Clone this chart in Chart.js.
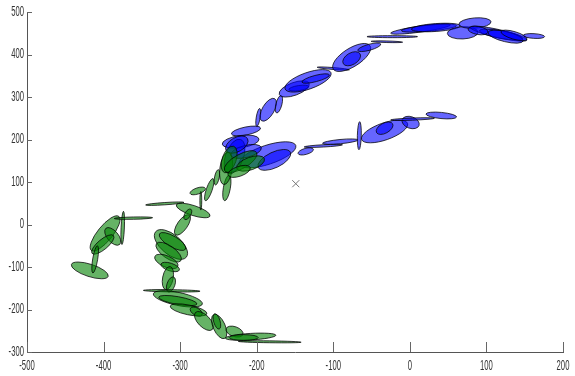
<!DOCTYPE html>
<html>
<head>
<meta charset="utf-8">
<script src="https://cdn.jsdelivr.net/npm/chart.js@4.4.0/dist/chart.umd.min.js"></script>
<style>
  html, body { margin: 0; padding: 0; background: #fff; }
  #wrap { width: 575px; height: 376px; }
</style>
</head>
<body>
<div id="wrap"><canvas id="chart" width="575" height="376"></canvas></div>
<script>
// axis ticks
const xTicks = [-500, -400, -300, -200, -100, 0, 100, 200];
const yTicks = [-300, -200, -100, 0, 100, 200, 300, 400, 500];

// each ellipse: [centerX, centerY, majorEndX, majorEndY, minor/major ratio]
const greenEllipses = [
  [-418, -108, -394, -122, 0.32],
  [-398, -21, -380, 19, 0.34],
  [-388, -28, -379, -47, 0.52],
  [-401, -47, -387, -26, 0.36],
  [-411, -82, -408, -50, 0.18],
  [-375, -8, -374, 31, 0.1],
  [-361, 15, -336, 16, 0.06],
  [-320, 49, -295, 52, 0.06],
  [-283, 33, -261, 20, 0.28],
  [-273, 56, -273, 78, 0.1],
  [-297, -1, -288, 22, 0.42],
  [-290, 24, -286, 36, 0.5],
  [-312, -47, -292, -77, 0.5],
  [-310, -40, -293, -58, 0.36],
  [-315, -65, -299, -85, 0.42],
  [-318, -87, -303, -99, 0.45],
  [-313, -100, -301, -107, 0.4],
  [-316, -126, -313, -99, 0.45],
  [-312, -141, -308.5, -123.5, 0.5],
  [-311, -156, -274, -157, 0.04],
  [-303, -175, -271, -187, 0.26],
  [-303, -179, -278, -187, 0.2],
  [-289, -201, -265, -210, 0.26],
  [-279, -205, -271.5, -213, 0.55],
  [-269, -227, -258, -247, 0.5],
  [-249, -240, -242, -268, 0.46],
  [-252, -228, -249, -246, 0.4],
  [-229, -252, -218, -259, 0.55],
  [-208, -264, -175, -260.5, 0.13],
  [-217, -266, -198, -266, 0.2],
  [-183, -276, -142, -277, 0.03],
  [-277, 79, -267, 85, 0.38],
  [-262, 82, -257, 108, 0.25],
  [-252, 111, -250, 129, 0.3],
  [-239, 86, -236, 116, 0.27],
  [-240, 132, -237, 170, 0.38],
  [-236, 153, -230, 184, 0.5],
  [-221, 148, -200, 169, 0.39],
  [-208, 143.5, -190, 155, 0.43],
  [-223, 125, -208.5, 134, 0.42]
];

const blueEllipses = [
  [-214, 220, -195, 227, 0.27],
  [-221, 195, -197, 201, 0.33],
  [-186, 164, -149, 186, 0.32],
  [-177, 152, -156, 170, 0.44],
  [-229, 160, -221, 200, 0.5],
  [-214, 172, -194, 181, 0.38],
  [-226, 188, -212, 202, 0.58],
  [-198, 252, -196, 273, 0.22],
  [-185, 270, -176.5, 296, 0.46],
  [-171, 283, -168, 303.5, 0.33],
  [-151, 319, -131.5, 332, 0.4],
  [-145, 321, -132, 324.5, 0.25],
  [-133, 338, -103, 357, 0.34],
  [-123, 343.5, -105, 352, 0.22],
  [-100, 367, -79, 364, 0.06],
  [-76, 393, -52, 420.5, 0.42],
  [-76, 390, -65, 401.6, 0.6],
  [-53, 417, -38, 424.5, 0.25],
  [-23, 442, 10, 442, 0.04],
  [-30, 430, -9.5, 429, 0.05],
  [14, 460, 53, 470, 0.1],
  [25, 462, 61, 468, 0.11],
  [34, 463.5, 66, 467.5, 0.16],
  [69, 451, 89, 452.5, 0.4],
  [85, 474, 106, 477, 0.32],
  [116, 449, 153, 434, 0.14],
  [119, 447, 147, 438, 0.18],
  [125, 442, 148, 432, 0.28],
  [136, 445, 153, 436, 0.28],
  [162, 443.5, 176, 442, 0.22],
  [89, 456.5, 102, 452.5, 0.4],
  [-136, 172, -126, 177, 0.38],
  [-113, 185, -88, 187.5, 0.06],
  [-91, 195, -68, 199, 0.12],
  [-66, 209, -65.5, 242, 0.14],
  [-33, 219, -3, 238, 0.35],
  [-33, 226.6, -22.5, 237, 0.55],
  [1, 240, 12, 233, 0.65],
  [3.5, 248, 32, 250, 0.05],
  [41, 256.5, 61, 253, 0.2]
];

const markerPoint = [{ x: -149, y: 96 }];

const toCenters = list => list.map(e => ({ x: e[0], y: e[1] }));

function drawEllipse(c, xs, ys, e) {
  const px = xs.getPixelForValue(e[0]), py = ys.getPixelForValue(e[1]);
  const qx = xs.getPixelForValue(e[2]), qy = ys.getPixelForValue(e[3]);
  const a = Math.hypot(qx - px, qy - py);
  const rot = Math.atan2(qy - py, qx - px);
  c.beginPath();
  c.ellipse(px, py, a, Math.max(a * e[4], 0.6), rot, 0, Math.PI * 2);
  c.fill();
  c.stroke();
}

// narrow tick label, like the condensed font of the original
function narrowText(c, text, x, y, align) {
  const sx = 0.55;
  c.save();
  c.translate(x, y);
  c.scale(sx, 1);
  c.textAlign = align;
  c.textBaseline = 'middle';
  c.fillText(text, 0, 0);
  c.restore();
}

const ellipsePlugin = {
  id: 'ellipses',
  beforeDatasetsDraw(chart) {
    const c = chart.ctx, xs = chart.scales.x, ys = chart.scales.y;
    c.save();
    c.lineWidth = 1;
    c.strokeStyle = 'rgba(0,0,0,0.75)';
    c.fillStyle = 'rgba(0,0,255,0.6)';
    blueEllipses.forEach(e => drawEllipse(c, xs, ys, e));
    c.fillStyle = 'rgba(0,128,0,0.6)';
    greenEllipses.forEach(e => drawEllipse(c, xs, ys, e));
    c.restore();
  },
  afterDraw(chart) {
    // inward tick marks and tick labels
    const c = chart.ctx, xs = chart.scales.x, ys = chart.scales.y;
    const area = chart.chartArea;
    c.save();
    c.strokeStyle = '#666';
    c.lineWidth = 1;
    c.beginPath();
    xs.ticks.forEach(t => {
      const x = Math.round(xs.getPixelForValue(t.value)) + 0.5;
      c.moveTo(x, area.bottom);
      c.lineTo(x, area.bottom - 10);
    });
    ys.ticks.forEach(t => {
      const y = Math.round(ys.getPixelForValue(t.value)) + 0.5;
      c.moveTo(area.left, y);
      c.lineTo(area.left + 5, y);
    });
    c.stroke();
    c.fillStyle = '#333';
    c.font = "14px 'Liberation Sans', Arial, sans-serif";
    xs.ticks.forEach(t => {
      narrowText(c, String(t.value), xs.getPixelForValue(t.value), area.bottom + 14, 'center');
    });
    ys.ticks.forEach(t => {
      narrowText(c, String(t.value), area.left - 3, ys.getPixelForValue(t.value), 'right');
    });
    c.restore();
  }
};

new Chart(document.getElementById('chart'), {
  type: 'scatter',
  data: {
    datasets: [
      { label: 'blue', data: toCenters(blueEllipses), pointRadius: 0 },
      { label: 'green', data: toCenters(greenEllipses), pointRadius: 0 },
      {
        label: 'marker', data: markerPoint, pointStyle: 'crossRot',
        pointRadius: 5, borderColor: '#777', borderWidth: 1
      }
    ]
  },
  options: {
    responsive: false,
    animation: false,
    layout: { padding: { top: 12, right: 12, left: 0, bottom: 0 } },
    plugins: { legend: { display: false }, tooltip: { enabled: false } },
    scales: {
      x: {
        type: 'linear', min: -500, max: 200,
        afterBuildTicks: s => { s.ticks = xTicks.map(v => ({ value: v })); },
        afterFit: s => { s.height = 24; },
        grid: { display: false },
        border: { display: true, color: '#555', width: 1 },
        ticks: { display: false }
      },
      y: {
        type: 'linear', min: -300, max: 500,
        afterBuildTicks: s => { s.ticks = yTicks.map(v => ({ value: v })); },
        afterFit: s => { s.width = 27; },
        grid: { display: false },
        border: { display: true, color: '#555', width: 1 },
        ticks: { display: false }
      }
    }
  },
  plugins: [ellipsePlugin]
});
</script>
</body>
</html>
